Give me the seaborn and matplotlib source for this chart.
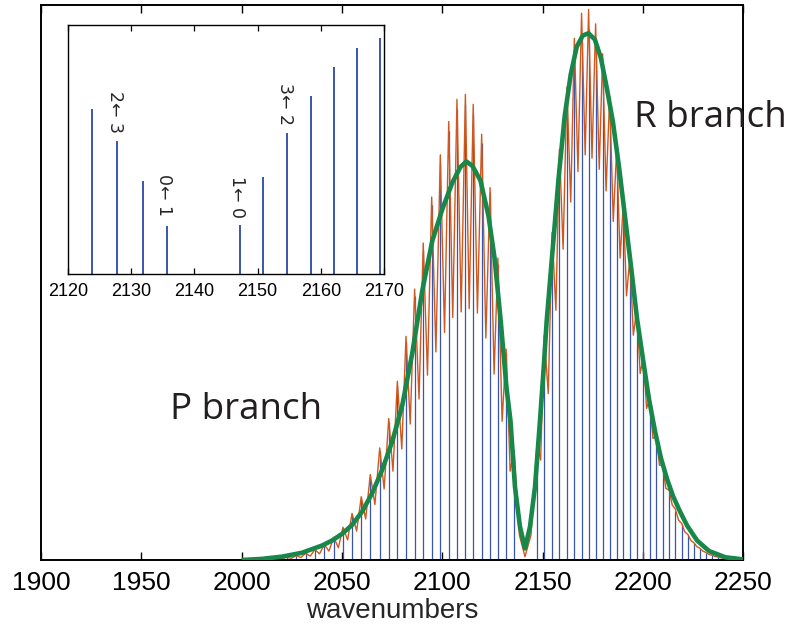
import numpy as np
import pandas as pd
import matplotlib
matplotlib.use("Agg")
import matplotlib.pyplot as plt
import seaborn as sns

# ---------------- data ----------------
# P-branch stick lines, P(31) ... P(1)
p_pos = [2002.3, 2007.4, 2012.5, 2017.5, 2022.4, 2027.2, 2031.9, 2036.5, 2041.2, 2045.9,
         2050.5, 2055.0, 2059.6, 2064.1, 2068.8, 2073.3, 2077.6, 2081.9, 2086.2, 2090.5,
         2094.7, 2099.0, 2103.2, 2107.3, 2111.5, 2115.4, 2119.6, 2123.8, 2127.7, 2131.8, 2135.7]
p_int = [0.001, 0.0012, 0.002, 0.003, 0.005, 0.008, 0.012, 0.018, 0.027, 0.040,
         0.057, 0.081, 0.110, 0.149, 0.196, 0.248, 0.313, 0.392, 0.476, 0.558,
         0.640, 0.714, 0.773, 0.812, 0.821, 0.804, 0.752, 0.663, 0.534, 0.373, 0.193]
# R-branch stick lines, R(0) ... R(30)
r_pos = [2147.2, 2150.8, 2154.7, 2158.4, 2162.1, 2165.8, 2169.4, 2172.9, 2176.4, 2179.9,
         2183.4, 2186.9, 2190.2, 2193.5, 2196.9, 2200.2, 2203.3, 2206.6, 2209.8, 2213.0,
         2216.1, 2219.3, 2222.4, 2225.4, 2228.4, 2231.4, 2234.4, 2237.2, 2240.0, 2242.7, 2245.4]
r_int = [0.197, 0.390, 0.566, 0.715, 0.831, 0.908, 0.948, 0.957, 0.932, 0.880,
         0.806, 0.716, 0.620, 0.526, 0.436, 0.353, 0.280, 0.216, 0.164, 0.122,
         0.089, 0.064, 0.045, 0.030, 0.020, 0.013, 0.0084, 0.0053, 0.0033, 0.002, 0.0012]

# high-resolution (orange) spectrum: peak tops and valley bottoms
p_peak = [0.001, 0.0012, 0.002, 0.003, 0.005, 0.008, 0.012, 0.019, 0.028, 0.041,
          0.059, 0.084, 0.114, 0.154, 0.202, 0.255, 0.322, 0.403, 0.488, 0.571,
          0.654, 0.730, 0.790, 0.830, 0.839, 0.821, 0.767, 0.671, 0.544, 0.380, 0.198]
p_valley_x = [2004.8, 2010.0, 2015.0, 2020.0, 2024.8, 2029.5, 2034.2, 2038.8, 2043.5, 2048.2,
              2052.8, 2057.3, 2061.8, 2066.4, 2071.0, 2075.4, 2079.8, 2084.0, 2088.4, 2092.6,
              2096.8, 2101.1, 2105.2, 2109.4, 2113.4, 2117.5, 2121.7, 2125.8, 2129.8, 2133.8]
p_valley = [0.0005, 0.0008, 0.0012, 0.002, 0.003, 0.0045, 0.007, 0.011, 0.016, 0.022,
            0.036, 0.052, 0.074, 0.100, 0.128, 0.160, 0.200, 0.245, 0.290, 0.333,
            0.375, 0.410, 0.437, 0.447, 0.453, 0.445, 0.400, 0.335, 0.250, 0.160]
gap_x = [2000.0, 2138.4, 2141.2, 2144.2, 2250.0]
gap_y = [0.0003, 0.045, 0.006, 0.045, 0.0005]
r_peak = [0.210, 0.405, 0.590, 0.740, 0.852, 0.940, 0.985, 0.992, 0.966, 0.912,
          0.835, 0.742, 0.643, 0.545, 0.452, 0.366, 0.290, 0.224, 0.170, 0.126,
          0.092, 0.066, 0.046, 0.031, 0.021, 0.0135, 0.0087, 0.0055, 0.0034, 0.002, 0.0012]
r_valley_x = [2149.0, 2152.8, 2156.6, 2160.2, 2164.0, 2167.6, 2171.2, 2174.6, 2178.2, 2181.6,
              2185.2, 2188.6, 2191.8, 2195.2, 2198.6, 2201.8, 2205.0, 2208.2, 2211.4, 2214.6,
              2217.7, 2220.8, 2223.9, 2226.9, 2229.9, 2232.9, 2235.8, 2238.6, 2241.4, 2244.0]
r_valley = [0.180, 0.300, 0.450, 0.560, 0.645, 0.700, 0.730, 0.724, 0.704, 0.665,
            0.610, 0.544, 0.476, 0.405, 0.336, 0.273, 0.219, 0.171, 0.129, 0.099,
            0.072, 0.051, 0.035, 0.024, 0.016, 0.010, 0.0065, 0.004, 0.0025, 0.0015]

# low-resolution (green) envelope
green_x = [2000, 2010, 2020, 2030, 2040, 2045, 2050, 2055, 2060, 2065, 2070, 2075, 2080,
           2085, 2090, 2095, 2100, 2105, 2109, 2112, 2115, 2119, 2123, 2126, 2129, 2132,
           2134, 2136.2, 2138.7, 2141.2, 2143.7, 2146.2, 2148.7, 2150.5, 2152,
           2155, 2158, 2161, 2164, 2167, 2170, 2172.8, 2176, 2179, 2182, 2185, 2188,
           2191, 2194, 2197, 2200, 2203, 2206, 2209, 2212, 2215, 2218.5, 2222, 2227,
           2233, 2241, 2250]
green_y = [0.0, 0.002, 0.006, 0.013, 0.026, 0.035, 0.047, 0.063, 0.087, 0.120, 0.162, 0.213, 0.278,
           0.372, 0.485, 0.575, 0.632, 0.680, 0.708, 0.718, 0.710, 0.684, 0.620, 0.545, 0.435, 0.310,
           0.250, 0.132, 0.060, 0.021, 0.060, 0.132, 0.252, 0.345, 0.430,
           0.560, 0.690, 0.800, 0.875, 0.925, 0.945, 0.949, 0.938, 0.905, 0.850, 0.790, 0.710,
           0.620, 0.530, 0.436, 0.362, 0.290, 0.232, 0.183, 0.146, 0.115, 0.087, 0.062, 0.035,
           0.016, 0.005, 0.001]

main_ticks = [1900, 1950, 2000, 2050, 2100, 2150, 2200, 2250]
inset_ticks = [2120, 2130, 2140, 2150, 2160, 2170]
inset_labels = ["2\u2190 3", "0\u2190 1", "1\u2190 0", "3\u2190 2"]
inset_label_x = [2127.7, 2135.5, 2147.0, 2154.6]
inset_label_y = [0.565, 0.235, 0.225, 0.598]

# ---------------- styling ----------------
sns.set_theme(style="ticks")
plt.rcParams["font.family"] = ["Liberation Sans", "DejaVu Sans"]

BLUE = "#3a55ad"
ORANGE = "#d0581e"
GREEN = "#17884a"

fig = plt.figure(figsize=(7.91, 6.27), dpi=100)
ax = fig.add_axes([41 / 791, 67 / 627, 702.3 / 791, 555 / 627])

# sticks
ax.vlines(p_pos + r_pos, 0, p_int + r_int, color=BLUE, lw=0.9, zorder=1)

# orange high-resolution spectrum
orange = pd.DataFrame({
    "x": p_pos + p_valley_x + gap_x + r_pos + r_valley_x,
    "y": p_peak + p_valley + gap_y + r_peak + r_valley,
})
sns.lineplot(data=orange, x="x", y="y", ax=ax, color=ORANGE, lw=1.0,
             estimator=None, sort=True, zorder=2)

# green envelope
green = pd.DataFrame({"x": green_x, "y": green_y})
sns.lineplot(data=green, x="x", y="y", ax=ax, color=GREEN, lw=3.3,
             estimator=None, sort=True, zorder=3, solid_capstyle="butt",
             solid_joinstyle="round")

ax.set_xlim(1900, 2250)
ax.set_ylim(0, 1)
ax.set_xticks(main_ticks)
ax.set_xticklabels([str(t) for t in main_ticks])
ax.set_yticks([])
ax.set_xlabel("wavenumbers", fontsize=20, labelpad=2)
ax.set_ylabel("")
ax.tick_params(axis="x", direction="in", top=True, bottom=True, length=6, width=1.0,
               labelsize=19, pad=8, colors="black")
for s in ax.spines.values():
    s.set_visible(True)
    s.set_linewidth(1.4)
    s.set_color("black")

fig.text(170 / 791, 1 - 410 / 627, "P branch", fontsize=26.5, family=["Open Sans", "DejaVu Sans"],
         va="center", ha="left", color="#231f20")
fig.text(634 / 791, 1 - 118 / 627, "R branch", fontsize=26.5, family=["Open Sans", "DejaVu Sans"],
         va="center", ha="left", color="#231f20")

# inset
axi = fig.add_axes([68 / 791, 1 - 274.3 / 627, 316 / 791, 249.3 / 627])
axi.set_facecolor("white")
axi.vlines(p_pos + r_pos, 0, p_int + r_int, color=BLUE, lw=1.4)
axi.set_xlim(2120, 2170)
axi.set_ylim(0, 1)
axi.set_xticks(inset_ticks)
axi.set_xticklabels([str(t) for t in inset_ticks])
axi.set_yticks([])
axi.tick_params(axis="x", direction="in", top=True, bottom=True, length=4.5, width=0.9,
                labelsize=13, pad=6, colors="black")
for s in axi.spines.values():
    s.set_visible(True)
    s.set_linewidth(1.0)
    s.set_color("black")
for lab, lx, ly in zip(inset_labels, inset_label_x, inset_label_y):
    axi.text(lx - 0.3, ly, lab, rotation=-90, fontsize=12.5, ha="center", va="bottom",
             family=["DejaVu Sans"])

fig.savefig("out.png", dpi=100)
